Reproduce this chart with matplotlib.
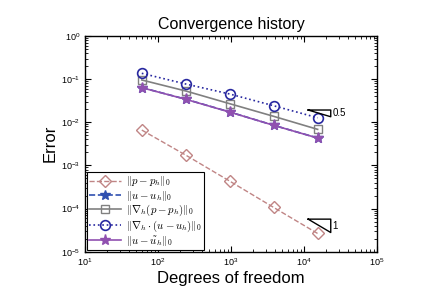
import matplotlib
matplotlib.use('Agg')
import matplotlib.pyplot as plt

plt.rcParams['font.family'] = ['Liberation Sans', 'DejaVu Sans']
plt.rcParams['mathtext.fontset'] = 'cm'

# Datos
dofs = [60, 240, 960, 3840, 15360]
err_p = [0.00659, 0.00173, 4.32e-4, 1.06e-4, 2.64e-5]
err_u = [0.0635, 0.0342, 0.0173, 0.0085, 0.00432]
err_grad_p = [0.0953, 0.0530, 0.0269, 0.0137, 0.00684]
err_div_u = [0.136, 0.0769, 0.0451, 0.0241, 0.0127]
err_u_tilde = [0.0632, 0.0340, 0.0172, 0.00848, 0.0043]

labels = [r'$\|p-p_h\|_0$', r'$\|u-u_h\|_0$', r'$\|\nabla_h(p-p_h)\|_0$',
          r'$\|\nabla_h\cdot(u-u_h)\|_0$', r'$\|u-\tilde{u}_h\|_0$']

# Triangulos de pendiente
tri_x = [11380, 23230]
tri_half_y = [0.0192, 0.0134]
tri_one_y = [5.68e-5, 2.78e-5]

fig = plt.figure(figsize=(4.27, 3.02), dpi=100)
ax = fig.add_axes([0.199, 0.1666, 0.684, 0.7144])

ax.loglog(dofs, err_p, '--', color='#c08585', marker='D', mfc='none', ms=6, lw=1, label=labels[0])
ax.loglog(dofs, err_u, '--', color='#3050b0', marker='*', ms=7, lw=1.2, label=labels[1])
ax.loglog(dofs, err_grad_p, '-', color='#808080', marker='s', mfc='none', ms=5.5, lw=1.2, label=labels[2])
ax.loglog(dofs, err_div_u, ':', color='#2828a0', marker='o', mfc='none', ms=7, lw=1.2, mew=1.2, label=labels[3])
ax.loglog(dofs, err_u_tilde, '-', color='#9050b0', marker='*', ms=8, lw=1.2, label=labels[4])

for ty, lab in [(tri_half_y, '0.5'), (tri_one_y, '1')]:
    ax.plot([tri_x[0], tri_x[1], tri_x[1], tri_x[0]], [ty[0], ty[0], ty[1], ty[0]], color='black', lw=1)
    ax.text(tri_x[1] * 1.05, (ty[0] * ty[1]) ** 0.5, lab, fontsize=7, va='center', ha='left')

ax.set_xlim(10, 1e5)
ax.set_ylim(1e-5, 1)
ax.tick_params(which='both', direction='in', top=True, right=True, labelsize=6.5)
ax.tick_params(which='major', length=4)
ax.tick_params(which='minor', length=2)
for s in ax.spines.values():
    s.set_linewidth(1)

ax.set_title('Convergence history', fontsize=11.5, pad=5)
ax.set_xlabel('Degrees of freedom', fontsize=12, labelpad=2)
ax.set_ylabel('Error', fontsize=12, labelpad=2)

leg = ax.legend(loc='lower left', fontsize=7.8, handlelength=3.0, borderaxespad=0.15,
                labelspacing=0.02, borderpad=0.2, handletextpad=0.4, fancybox=False)
leg.get_frame().set_edgecolor('black')
leg.get_frame().set_linewidth(0.8)
leg.get_frame().set_alpha(1)

fig.savefig('out.png', dpi=100)
